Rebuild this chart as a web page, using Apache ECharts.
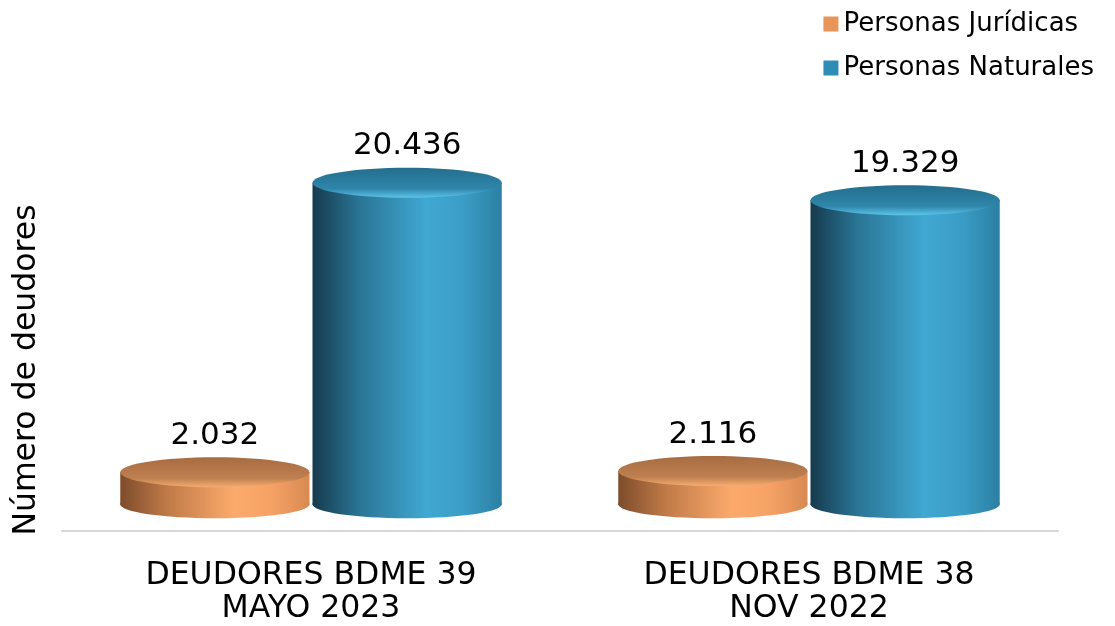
<!DOCTYPE html>
<html>
<head>
<meta charset="utf-8">
<script src="https://cdn.jsdelivr.net/npm/echarts@6/dist/echarts.min.js"></script>
<style>
  html, body { margin: 0; padding: 0; background: #fff; }
  #chart { width: 1115px; height: 626px; }
</style>
</head>
<body>
<div id="chart"></div>
<script>
const categories = ['DEUDORES BDME 39\nMAYO 2023', 'DEUDORES BDME 38\nNOV 2022']
const seriesNames = ['Personas Jurídicas', 'Personas Naturales']
const juridicas = [2032, 2116]
const naturales = [20436, 19329]

const FONT = 'DejaVu Sans'

// body / top colours for each cylinder series
const palette = [
  {
    legend: '#e8955a',
    body: ['#7d4c2b', '#c07a48', '#fcaa6b', '#f6a266', '#d88a52'],
    top: ['#a86c42', '#bf8050', '#f5ad70']
  },
  {
    legend: '#2e8db5',
    body: ['#163a4d', '#2a7595', '#40a8d2', '#3b9dc6', '#2b7fa3'],
    top: ['#246e8d', '#2f86aa', '#5cc4ea']
  }
]

function fmt(v) {
  return v.toString().replace(/\B(?=(\d{3})+(?!\d))/g, '.')
}

function cylinder(params, api) {
  const si = params.seriesIndex
  const c = palette[si]
  const cat = api.value(0)
  const val = api.value(1)
  const base = api.coord([cat, 0])
  const top = api.coord([cat, val])
  const band = api.size([1, 0])[0]
  const rx = band * 0.19
  const cx = base[0] + (si === 0 ? -1 : 1) * band * 0.193
  const ry = 14
  const ryTop = 15
  const bodyFill = new echarts.graphic.LinearGradient(0, 0, 1, 0, [
    { offset: 0, color: c.body[0] },
    { offset: 0.25, color: c.body[1] },
    { offset: 0.6, color: c.body[2] },
    { offset: 0.8, color: c.body[3] },
    { offset: 1, color: c.body[4] }
  ])
  const topFill = new echarts.graphic.LinearGradient(0, 0, 0, 1, [
    { offset: 0, color: c.top[0] },
    { offset: 0.7, color: c.top[1] },
    { offset: 1, color: c.top[2] }
  ])
  return {
    type: 'group',
    children: [
      {
        type: 'ellipse',
        shape: { cx: cx, cy: base[1], rx: rx, ry: ry },
        style: { fill: bodyFill }
      },
      {
        type: 'rect',
        shape: { x: cx - rx, y: top[1], width: rx * 2, height: base[1] - top[1] },
        style: { fill: bodyFill }
      },
      {
        type: 'ellipse',
        shape: { cx: cx, cy: top[1], rx: rx, ry: ryTop },
        style: { fill: topFill }
      },
      {
        type: 'text',
        style: {
          x: cx,
          y: top[1] - ryTop - 6,
          text: fmt(val),
          fill: '#000',
          font: '31px "' + FONT + '"',
          align: 'center',
          verticalAlign: 'bottom'
        }
      }
    ]
  }
}

const chart = echarts.init(document.getElementById('chart'))

chart.setOption({
  backgroundColor: '#fff',
  animation: false,
  textStyle: { fontFamily: FONT },
  legend: {
    orient: 'vertical',
    right: 16,
    top: 6,
    itemWidth: 15,
    itemHeight: 15,
    itemGap: 18,
    icon: 'rect',
    textStyle: { fontSize: 26, color: '#000', fontFamily: FONT },
    data: seriesNames
  },
  grid: {
    left: 62,
    right: 57,
    top: 100,
    bottom: 95
  },
  xAxis: {
    type: 'category',
    data: categories,
    axisLine: { onZero: false, lineStyle: { color: '#d9d9d9', width: 2 } },
    axisTick: { show: false },
    axisLabel: {
      color: '#000',
      fontSize: 31.5,
      lineHeight: 33,
      margin: 28,
      fontFamily: FONT
    }
  },
  yAxis: {
    type: 'value',
    min: -1700,
    max: 25700,
    show: false
  },
  graphic: [
    {
      type: 'text',
      x: 27,
      y: 370,
      rotation: Math.PI / 2,
      style: {
        text: 'Número de deudores',
        fill: '#000',
        font: '31.5px "' + FONT + '"',
        align: 'center',
        verticalAlign: 'middle'
      }
    }
  ],
  series: [
    {
      name: seriesNames[0],
      type: 'custom',
      itemStyle: { color: palette[0].legend },
      renderItem: cylinder,
      data: juridicas.map((v, i) => [i, v])
    },
    {
      name: seriesNames[1],
      type: 'custom',
      itemStyle: { color: palette[1].legend },
      renderItem: cylinder,
      data: naturales.map((v, i) => [i, v])
    }
  ]
})
</script>
</body>
</html>
